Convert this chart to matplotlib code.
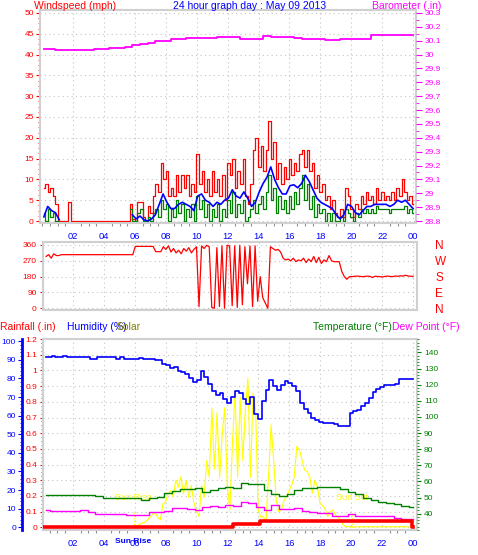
import matplotlib.pyplot as plt
import numpy as np
from matplotlib.ticker import AutoMinorLocator, FormatStrFormatter, MultipleLocator

plt.rcParams["font.family"] = ["Liberation Sans", "DejaVu Sans"]

W, H = 478, 555

RED = "#ff0000"
BLUE = "#0000ff"
GREEN = "#008000"
MAGENTA = "#ff00ff"
YELLOW = "#ffff00"
OLIVE = "#808000"

# ---------------- data ----------------
HOUR_TICKS = [2, 4, 6, 8, 10, 12, 14, 16, 18, 20, 22, 24]
HOUR_LABELS = ["02", "04", "06", "08", "10", "12", "14", "16", "18", "20", "22", "00"]

# wind, 10 minute readings (mph)
GUST_MPH = [
    8, 9, 7, 8, 6, 4, 0, 0, 0, 0, 4.5, 0,
    0, 0, 0, 0, 0, 0, 0, 0, 0, 0, 0, 0, 0, 0, 0, 0, 0, 0, 0, 0, 0, 0,
    4, 0.5, 0, 4.5, 4.5, 1, 0, 3.5, 2, 6, 9, 7, 14, 10, 12, 6, 8, 6, 11, 7, 11, 8, 11, 6, 9, 7,
    16, 9, 12, 7, 10, 6, 12, 7, 10, 6,
    11, 5, 14, 11, 15, 8, 12, 9, 15, 6,
    4, 9, 17, 20, 13, 18, 12, 17, 24, 15,
    19, 10, 14, 9, 13, 10, 15, 11, 14, 12,
    16, 17, 13, 17, 12, 14, 8, 11, 7, 9,
    5, 6, 3, 5, 2, 1, 3, 1, 8, 6,
    3, 1, 4, 3, 6, 4, 7, 5, 6, 4,
    8, 5, 7, 5, 6, 5, 7, 5, 8, 6,
    10, 7, 5, 6, 4,
]
nan = np.nan
WIND_MPH = [
    2, 0, 3, 1, 2, 0,
    nan, nan, nan, nan, nan, nan, nan, nan, nan, nan, nan, nan, nan, nan,
    nan, nan, nan, nan, nan, nan, nan, nan, nan, nan, nan, nan, nan, nan,
    3, 0, 0, 2, 3, 0, 0, 1, 0, 2, 3, 1, 5, 3, 4, 0, 3, 1, 5, 2, 4, 0, 3, 1, 4, 0,
    6, 3, 5, 1, 4, 0, 3, 1, 4, 0,
    3, 1, 5, 2, 7, 1, 4, 2, 5, 0,
    1, 3, 5, 2, 4, 6, 3, 7, 11, 5,
    8, 2, 6, 3, 5, 2, 6, 3, 7, 4,
    8, 11, 5, 9, 3, 6, 1, 4, 2, 3,
    0, 2, 0, 2, 0, 0, 1, 0, 3, 2,
    1, 0, 2, 1, 3, 2, 2.8, 2, 2.8, 2,
    3.5, 2.8, 2.8, 2.8, 2.8, 2, 2.8, 2.8, 2.8, 2.8,
    2.8, 3.5, 2, 2.8, 2,
]
# average wind, 15 minute readings (mph)
AVG_MPH = [
    1, 3.5, 2.5, 2, 0.3,
    nan, nan, nan, nan, nan, nan, nan, nan, nan, nan, nan, nan, nan, nan, nan, nan, nan, nan,
    1.5, 0.5, 1.2, 0.3, 0, 0.5, 1.5, 4, 6.5, 4.5, 3, 3, 4, 4.5, 4, 3.5, 2.5,
    6, 6.5, 5, 4.5, 3.5, 4.5, 4, 5, 5.5, 7.5, 6, 5.5, 7, 5.5, 3.5, 4.5,
    7, 9, 10.5, 13, 10, 8, 6.5, 6.5, 8.5, 8.7, 8, 9, 11, 9.5, 7.5, 5.5,
    4.5, 4, 3.5, 3, 1.5, 0.5, 1.5, 4, 3.5, 2, 1.5, 2.5, 3.5, 3.5, 4, 4,
    4, 4, 3.5, 4, 5, 4.5, 5, 4, 3,
]
# barometer, 30 minute readings (in)
BARO_IN = [
    30.038, 30.038, 30.035, 30.033, 30.033, 30.033, 30.033, 30.04, 30.04, 30.05,
    30.05, 30.057, 30.07, 30.08, 30.086, 30.10, 30.10, 30.11, 30.11, 30.12,
    30.122, 30.122, 30.122, 30.128, 30.128, 30.125, 30.11, 30.11, 30.11, 30.136,
    30.13, 30.13, 30.13, 30.122, 30.115, 30.11, 30.11, 30.108, 30.108, 30.11,
    30.11, 30.115, 30.115, 30.14, 30.14, 30.14, 30.14, 30.14, 30.142,
]
# wind direction, 10 minute readings (deg)
DIR_DEG = [
    295, 305, 285, 310, 300, 300,
    305, 305, 305, 305, 305, 305, 305, 305, 305, 305, 305, 305, 305, 305, 305,
    305, 305, 305, 305, 305, 305, 305, 305, 305, 305, 305, 305, 305, 305,
    352, 352, 352, 352, 352, 352, 352, 352,
    322, 322, 322,
    350, 335, 355, 320, 340, 315, 330, 310, 340, 325, 345, 315, 335, 350,
    10, 355, 340, 358, 350, 5, 0, 345, 10, 355,
    0, 358, 355, 15, 355, 5, 358, 20, 350, 140,
    355, 10, 355, 40, 180, 60, 30, 0, 350, 340,
    330, 335, 320, 285, 275, 280, 270, 285, 265, 275,
    270, 285, 260, 280, 265, 295, 260, 290, 255, 275,
    265, 300, 270, 265, 265, 265, 210, 180, 165, 180,
    180, 182, 183, 182, 180, 181, 183, 182, 175, 182,
    181, 180, 178, 182, 183, 181, 180, 184, 182, 185,
    183, 188, 184, 182, 182,
]
# humidity, 15 minute readings (%)
HUMIDITY = [
    91.5, 91.5, 92, 91.5, 91.5, 92, 91.5, 91.5, 91.5, 91.5, 91.5, 91.5,
    90.6, 90.6, 91.5, 91.5, 91.5, 91.5, 91.5, 90.6, 91.5, 90.6, 90.6, 90.6,
    90.6, 91.2, 90.6, 90.6, 90.6, 89.7, 89.7, 88, 87, 85.5, 86, 84,
    83.5, 82.5, 80.5, 78, 79, 84, 81, 77, 73, 71, 72, 69,
    67, 70, 73, 72, 69, 66, 70, 61, 58, 68, 74, 79.4,
    76, 74, 76.5, 78.4, 77.5, 76, 73, 67, 63.5, 61.5, 59, 57.9,
    56.5, 56, 56, 56.2, 55.5, 54.2, 54.2, 54.2, 61.5, 62.5, 63.2, 65,
    67, 69.6, 72.5, 74.5, 75.5, 76.6, 76.6, 76.6, 77, 79.7, 79.7, 79.7, 79.7,
]
# temperature and dew point, 30 minute readings (F)
TEMP_F = [
    51.6, 51.6, 51.6, 51.6, 51.6, 51.8, 51.6, 51.2, 50, 50,
    49.6, 49.6, 49.6, 48.5, 49.5, 50.6, 52.7, 54, 55.2, 55.5,
    55.8, 53.5, 54.7, 55.8, 56.8, 55.8, 58.9, 58.5, 58.5, 55,
    52.5, 51.2, 52, 54.5, 55.8, 55.8, 56.4, 56.4, 56.4, 55.5,
    53.7, 52, 49.6, 48.5, 47.5, 46.5, 45.8, 45, 44,
]
DEW_F = [
    42, 41.8, 41.9, 41.9, 41.9, 42.2, 41.2, 39.8, 39.8, 39.8,
    39.8, 39.2, 39.2, 39.2, 41.2, 41.2, 41.5, 43.3, 43.3, 43,
    42.3, 44, 45, 44.3, 45.4, 44.5, 47.5, 46.5, 44.3, 42,
    45.4, 42.9, 42.9, 43.5, 41.7, 41.2, 40.6, 40.2, 38.6, 38.6,
    39.8, 38.6, 38.6, 38.6, 38.6, 38.6, 37.5, 36.9, 36.9,
]
# solar radiation, 10 minute readings (W/m2)
SOLAR_WM2 = [
    0, 0, 0, 0, 0, 0, 0, 0, 0, 0, 0, 0, 0, 0, 0, 0, 0, 0,
    0, 0, 0, 0, 0, 0, 0, 0, 0, 0, 0, 0, 0, 0, 0, 0, 0, 0,
    0, 10, 18, 25, 30, 45, 60, 80, 86, 60, 44,
    140, 150, 200, 220, 180, 284, 240, 304, 200, 280, 180, 250, 150,
    100, 64, 250, 180, 400, 300, 714, 350, 686, 300,
    550, 716, 250, 104, 500, 814, 300, 780, 400, 700,
    894, 300, 805, 700, 104, 60, 64, 30, 300, 614,
    400, 164, 94, 104, 160, 184, 220, 254, 300, 484,
    464, 404, 344, 334, 304, 204, 280, 244, 144, 130,
    110, 64, 94, 104, 74, 60, 44, 14, 5, 4,
    3, 3, 3, 3, 3, 3, 3, 3, 3, 3, 3, 3, 3, 3, 3, 3, 3, 3, 3, 3, 3, 3, 3, 3, 3,
]
# daily rain (in)
RAIN_HOURS = [0.07, 12.36, 14.09, 23.93, 24.0]
RAIN_IN = [0.0, 0.02, 0.04, 0.005, 0.005]

SUNRISE_H = 5.95
SUNSET_H = 20.1

wind_t = np.linspace(0.1, 24.0, len(GUST_MPH))
avg_t = np.linspace(0.1, 24.0, len(AVG_MPH))
baro_t = np.linspace(0.1, 24.0, len(BARO_IN))
dir_t = np.linspace(0.25, 24.0, len(DIR_DEG))
hum_t = np.linspace(0.25, 24.0, len(HUMIDITY))
temp_t = np.linspace(0.25, 24.0, len(TEMP_F))
dew_t = np.linspace(0.25, 24.0, len(DEW_F))
solar_t = np.linspace(0.0, 24.0, len(SOLAR_WM2))

# ---------------- figure ----------------
fig = plt.figure(figsize=(W / 100, H / 100), dpi=100)


def add_panel(left, top, right, bottom):
    return fig.add_axes([left / W, 1 - bottom / H, (right - left) / W, (bottom - top) / H])


def px_text(x, y, s, **kw):
    fig.text(x / W, 1 - y / H, s, **kw)


def frame(ax):
    for s in ax.spines.values():
        s.set_color("#d0d0d0")
        s.set_linewidth(1.5)


def hide_spines(ax):
    for s in ax.spines.values():
        s.set_visible(False)


def grid(ax):
    ax.grid(True, which="major", color="#c4c4c4", linestyle=(0, (1, 3)), linewidth=0.8)


def hour_axis(ax, labels=True):
    ax.set_xticks(HOUR_TICKS, HOUR_LABELS if labels else [])
    ax.xaxis.set_minor_locator(MultipleLocator(0.5))
    ax.tick_params(axis="x", which="major", length=0, labelsize=6.7,
                   labelcolor=BLUE, pad=6.5)
    ax.tick_params(axis="x", which="minor", length=2.4 if labels else 0,
                   color="#909090", width=0.8)


# ---- wind speed / barometer ----
ax1 = add_panel(40, 10, 416, 223)
ax1.set_xlim(-0.15, 24.19)
ax1.set_ylim(-0.48, 50.72)
frame(ax1)
grid(ax1)
hour_axis(ax1)
ax1.plot(wind_t, GUST_MPH, color=RED, lw=0.9, drawstyle="steps-mid")
ax1.plot(wind_t, WIND_MPH, color=GREEN, lw=0.9, drawstyle="steps-mid")
ax1.plot(avg_t, AVG_MPH, color=BLUE, lw=1.2)
ax1.yaxis.set_major_locator(MultipleLocator(5))
ax1.yaxis.set_minor_locator(AutoMinorLocator(4))
ax1.tick_params(axis="y", which="major", colors=RED, labelsize=6, length=3, pad=1.5)
ax1.tick_params(axis="y", which="minor", colors=RED, length=1.5)

ax1b = ax1.twinx()
ax1b.set_ylim(28.8 + 0.03 * -0.48, 28.8 + 0.03 * 50.72)
hide_spines(ax1b)
ax1b.step(baro_t, BARO_IN, where="mid", color=MAGENTA, lw=1.3)
ax1b.yaxis.set_major_locator(MultipleLocator(0.1))
ax1b.yaxis.set_minor_locator(AutoMinorLocator(2))
ax1b.yaxis.set_major_formatter(FormatStrFormatter("%g"))
ax1b.tick_params(axis="y", which="major", colors=MAGENTA, labelsize=6, length=4, pad=2)
ax1b.tick_params(axis="y", which="minor", colors=MAGENTA, length=2)

px_text(34, 6, "Windspeed (mph)", color=RED, fontsize=7.5, va="center")
px_text(250, 6, "24 hour graph day : May 09 2013", color=BLUE, fontsize=7.5,
        va="center", ha="center")
px_text(372, 6, "Barometer (.in)", color=MAGENTA, fontsize=7.5, va="center")

# ---- wind direction ----
ax2 = add_panel(43, 242, 417, 310)
ax2.set_xlim(0.05, 24.25)
ax2.set_ylim(-9.6, 377)
frame(ax2)
hour_axis(ax2, labels=False)
grid(ax2)
ax2.plot(dir_t, DIR_DEG, color=RED, lw=0.9)
ax2.set_yticks([0, 90, 180, 270, 360])
ax2.tick_params(axis="y", colors=RED, labelsize=6, length=2.5, pad=2)

ax2r = ax2.twinx()
ax2r.set_ylim(ax2.get_ylim())
hide_spines(ax2r)
ax2r.set_yticks([360, 270, 180, 90, 0], ["N", "W", "S", "E", "N"])
ax2r.tick_params(axis="y", length=0, labelsize=8.5, labelcolor=RED, pad=13)

# ---- rain / humidity / solar / temperature ----
ax3 = add_panel(43, 339, 417, 530)
ax3.set_xlim(0.07, 24.28)
ax3.set_ylim(-0.0172, 1.2005)
frame(ax3)
grid(ax3)
hour_axis(ax3)
ax3.yaxis.set_major_locator(MultipleLocator(0.1))
ax3.yaxis.set_minor_locator(AutoMinorLocator(4))
ax3.yaxis.set_major_formatter(FormatStrFormatter("%g"))
ax3.tick_params(axis="y", which="major", colors=RED, labelsize=6, length=2.5, pad=1.5)
ax3.tick_params(axis="y", which="minor", colors=RED, length=1.5)

xt = ax3.get_xaxis_transform()
ax3.axvline(SUNRISE_H, 0, 0.1, color=YELLOW, ls=(0, (1, 1.5)), lw=0.8)
ax3.axvline(SUNSET_H, 0, 0.09, color=YELLOW, ls=(0, (1, 1.5)), lw=0.8)
ax3.text(SUNRISE_H, 0.168, "Sun Rise", transform=xt, color=YELLOW, fontsize=6.5,
         ha="center", va="center")
ax3.text(SUNSET_H, 0.168, "Sun Set", transform=xt, color=YELLOW, fontsize=6.5,
         ha="center", va="center")
ax3.text(SUNRISE_H - 0.05, -0.06, "Sun Rise", transform=xt, color=BLUE, fontsize=6,
         fontweight="bold", ha="center", va="center", clip_on=False)

ax_sol = ax3.twinx()
ax_sol.set_ylim(-16.2, 1128)
hide_spines(ax_sol)
ax_sol.set_yticks([])
ax_sol.plot(solar_t, SOLAR_WM2, color=YELLOW, lw=0.8)

ax_hum = ax3.twinx()
ax_hum.set_ylim(-1.45, 101.2)
hide_spines(ax_hum)
ax_hum.spines["left"].set_visible(True)
ax_hum.spines["left"].set_position(("outward", 15))
ax_hum.spines["left"].set_color(BLUE)
ax_hum.spines["left"].set_linewidth(2)
ax_hum.yaxis.set_ticks_position("left")
ax_hum.yaxis.set_label_position("left")
ax_hum.yaxis.set_major_locator(MultipleLocator(10))
ax_hum.yaxis.set_minor_locator(AutoMinorLocator(5))
ax_hum.tick_params(axis="y", which="major", colors=BLUE, labelsize=6, length=3, pad=1.5)
ax_hum.tick_params(axis="y", which="minor", colors=BLUE, length=1.5)
ax_hum.step(hum_t, HUMIDITY, where="mid", color=BLUE, lw=1.2)

ax_temp = ax3.twinx()
ax_temp.set_ylim(29.9, 148.3)
hide_spines(ax_temp)
ax_temp.set_yticks(range(40, 150, 10))
ax_temp.yaxis.set_minor_locator(MultipleLocator(2))
ax_temp.tick_params(axis="y", which="major", colors=GREEN, labelsize=6, length=3, pad=2)
ax_temp.tick_params(axis="y", which="minor", colors=GREEN, length=1.2)
ax_temp.step(temp_t, TEMP_F, where="mid", color=GREEN, lw=1.0)
ax_temp.step(dew_t, DEW_F, where="mid", color=MAGENTA, lw=1.0)

ax_rain = ax3.twinx()
ax_rain.set_ylim(ax3.get_ylim())
hide_spines(ax_rain)
ax_rain.set_yticks([])
ax_rain.step(RAIN_HOURS, RAIN_IN, where="post", color=RED, lw=2.6)

px_text(0, 327, "Rainfall (.in)", color=RED, fontsize=7.5, va="center")
px_text(67, 327, "Humidity (%)", color=BLUE, fontsize=7.5, va="center")
px_text(117, 327, "Solar", color=OLIVE, fontsize=7.5, va="center")
px_text(313, 327, "Temperature (\u00b0F)", color=GREEN, fontsize=7.5, va="center")
px_text(392, 327, "Dew Point (\u00b0F)", color=MAGENTA, fontsize=7.5, va="center")

fig.savefig("out.png", dpi=100)
